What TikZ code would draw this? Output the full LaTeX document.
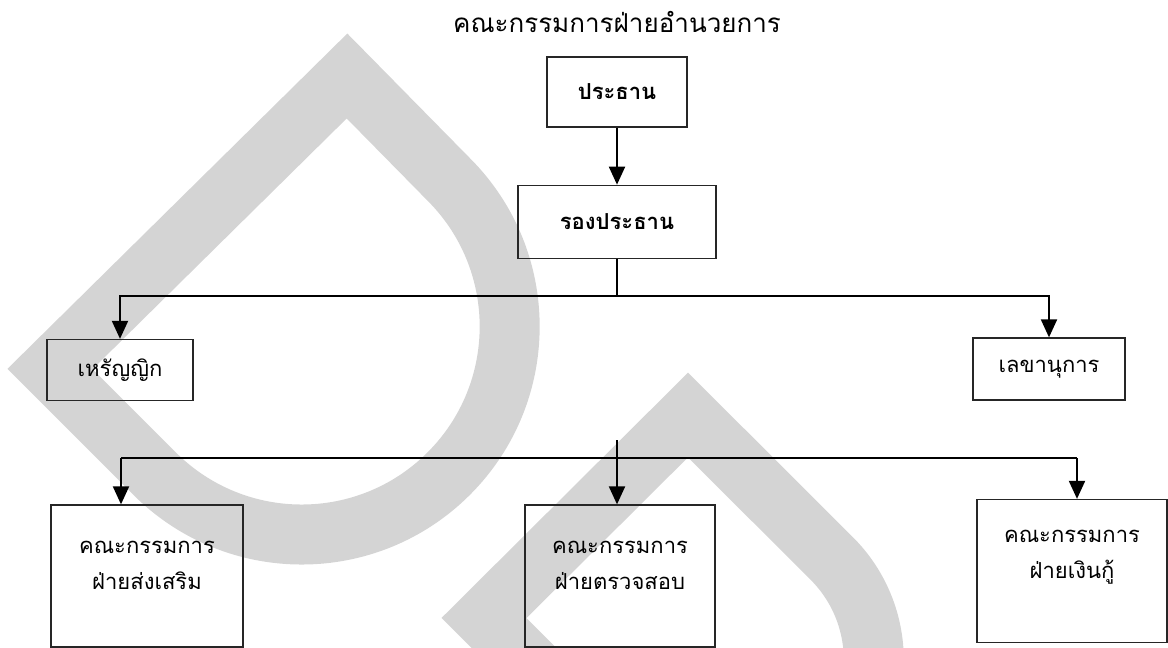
\documentclass[tikz,border=0pt]{standalone}
\usepackage{fontspec}
\newfontfamily\thaifont[Script=Thai]{Loma}
\usetikzlibrary{arrows.meta,positioning}
\definecolor{wmgray}{RGB}{212,212,212}

\begin{document}
\begin{tikzpicture}[
        x=1pt, y=-1pt,
        node distance=57pt,
        >={Triangle[width=16pt,length=18pt]},
        font=\thaifont\fontsize{22}{36}\selectfont,
        unit/.style={draw=black!85, line width=1.3pt, inner sep=0pt},
        boldunit/.style={unit, font=\thaifont\fontsize{22}{36}\selectfont\bfseries},
        link/.style={line width=2pt},
        wmark/.style={draw=wmgray, line width=60pt, line join=miter}
    ]
    \useasboundingbox (0,0) rectangle (1168,648);
    % watermark
    \draw[wmark] (347,76) -- (50,369) -- (154.6,473.6)
        arc[start angle=135, end angle=-45, radius=208] -- cycle;
    \draw[wmark] (688,415) -- (484,618) -- (628,762)
        arc[start angle=135, end angle=-45, radius=144] -- cycle;

    \node[font=\thaifont\fontsize{26}{36}\selectfont] (title) at (617,22) {คณะกรรมการฝ่ายอำนวยการ};
    \node[boldunit, minimum width=140pt, minimum height=70pt] (chair) at (617,92) {ประธาน};
    \node[boldunit, minimum width=198pt, minimum height=73pt, below=57pt of chair] (vice) {รองประธาน};
    \node[unit, minimum width=146pt, minimum height=61pt] (treas) at (120,370) {เหรัญญิก};
    \node[unit, minimum width=152pt, minimum height=62pt] (secr) at (1049,369) {เลขานุการ};

    \node[unit, minimum width=192pt, minimum height=142pt] (promo) at (147,576) {};
    \node[unit, minimum width=190pt, minimum height=142pt] (audit) at (620,576) {};
    \node[unit, minimum width=190pt, minimum height=143pt] (loan) at (1072,571) {};
    \node[align=center] (promo text) at ([yshift=11pt]promo.center) {คณะกรรมการ\\ฝ่ายส่งเสริม};
    \node[align=center] (audit text) at ([yshift=11pt]audit.center) {คณะกรรมการ\\ฝ่ายตรวจสอบ};
    \node[align=center] (loan text) at ([yshift=14pt]loan.center) {คณะกรรมการ\\ฝ่ายเงินกู้};

    % connectors
    \coordinate (split) at (vice.south |- 0,296);
    \coordinate (hub) at (617,440);
    \coordinate (rail west) at (121,458);
    \coordinate (rail east) at (1077,458);
    \draw[link, ->] (chair) -- (chair.south |- vice.north);
    \draw[link] (vice) -- (split);
    \draw[link, ->] (split) -| (treas);
    \draw[link, ->] (split) -| (secr);
    \draw[link] (rail west) -- (rail east);
    \draw[link, ->] (rail west) -- (rail west |- promo.north);
    \draw[link, ->] (hub) -- (hub |- audit.north);
    \draw[link, ->] (rail east) -- (rail east |- loan.north);
\end{tikzpicture}
\end{document}
